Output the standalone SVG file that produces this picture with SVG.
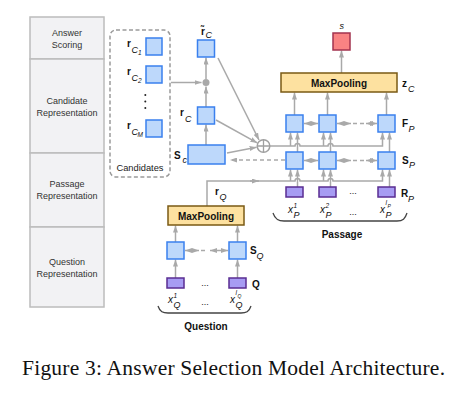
<svg xmlns="http://www.w3.org/2000/svg" width="459" height="402" viewBox="0 0 459 402">
<style>
.panel{fill:#f2f2f4;stroke:#bcbcbc;stroke-width:1.5}
.pt{font-family:"Liberation Sans",Arial,sans-serif;font-size:9px;fill:#333;text-anchor:middle}
.blue{fill:#bdd8fb;stroke:#3a80ee;stroke-width:1.5}
.purple{fill:#a79cf3;stroke:#5a2d92;stroke-width:1.5}
.pool{fill:#fde1a0;stroke:#7a5a14;stroke-width:1.5}
.red{fill:#f98383;stroke:#a3334f;stroke-width:1.5}
.ln{stroke:#a9a9a9;stroke-width:1.5;fill:none}
.dash{stroke-dasharray:4 3}
.a{marker-end:url(#ah)}
.aa{marker-end:url(#ah);marker-start:url(#ah)}
.b{font-family:"Liberation Sans",Arial,sans-serif;font-weight:bold;font-size:10px;fill:#111}
.i9{font-family:"Liberation Sans",Arial,sans-serif;font-style:italic;font-size:9px;fill:#111}
.i7{font-family:"Liberation Sans",Arial,sans-serif;font-style:italic;font-size:6.5px;fill:#111}
.x{font-family:"Liberation Sans",Arial,sans-serif;font-style:italic;font-size:10px;fill:#111}
.mp{font-family:"Liberation Sans",Arial,sans-serif;font-weight:bold;font-size:10px;fill:#111;text-anchor:middle}
.dots{font-family:"Liberation Sans",Arial,sans-serif;font-size:9px;fill:#111;text-anchor:middle}
.brace{stroke:#444;stroke-width:1.3;fill:none}
.cap{font-family:"Liberation Sans",Arial,sans-serif;font-weight:bold;font-size:10px;fill:#111;text-anchor:middle}
</style>
<defs>
<marker id="ah" viewBox="0 0 7 5" refX="7" refY="2.5" markerWidth="7" markerHeight="5" markerUnits="userSpaceOnUse" orient="auto-start-reverse"><path d="M0,0 L7,2.5 L0,5 z" fill="#a9a9a9"/></marker>
</defs>

<g id="layer-panel">
<rect class="panel" x="30" y="17" width="74" height="42"/>
<rect class="panel" x="30" y="59" width="74" height="94"/>
<rect class="panel" x="30" y="153" width="74" height="74"/>
<rect class="panel" x="30" y="227" width="74" height="80"/>
<text class="pt" x="67" y="36">Answer</text>
<text class="pt" x="67" y="48">Scoring</text>
<text class="pt" x="67" y="104">Candidate</text>
<text class="pt" x="67" y="116">Representation</text>
<text class="pt" x="67" y="187">Passage</text>
<text class="pt" x="67" y="199">Representation</text>
<text class="pt" x="67" y="265">Question</text>
<text class="pt" x="67" y="277">Representation</text>
</g>

<g id="connectors">
<path class="ln a" d="M171,82.5 H201.5"/>
<path class="ln a" d="M206,145 V124.5"/>
<path class="ln a" d="M206,107 V86.5"/>
<path class="ln a" d="M206,79 V57.5"/>
<path class="ln a" d="M218,58 L259,140"/>
<path class="ln a" d="M216,120 L257.3,142.9"/>
<path class="ln a" d="M227,153 L256.6,147.2"/>
<path class="ln dash a" d="M285,160 H230"/>
<path class="ln a" d="M270,146 H295 A2.5,2.5 0 0 1 300,146 H328 A2.5,2.5 0 0 1 333,146 H382.5 V132.5"/>
<path class="ln a" d="M290.5,146 V132.5"/>
<path class="ln a" d="M323.5,146 V132.5"/>
<path class="ln a" d="M207,206 V181 H295 A2.5,2.5 0 0 1 300,181 H328 A2.5,2.5 0 0 1 333,181 H382.5 V169.5"/>
<path class="ln a" d="M250,181 H259"/>
<path class="ln a" d="M290.5,181 V169.5"/>
<path class="ln a" d="M323.5,181 V169.5"/>
<path class="ln a" d="M297.5,152 V132.5"/>
<path class="ln a" d="M330.5,152 V132.5"/>
<path class="ln a" d="M389.5,152 V132.5"/>
<path class="ln a" d="M297.5,187 V169.5"/>
<path class="ln a" d="M330.5,187 V169.5"/>
<path class="ln a" d="M389.5,187 V169.5"/>
<path class="ln a" d="M294.5,115 V92.5"/>
<path class="ln a" d="M327.5,115 V92.5"/>
<path class="ln a" d="M386.5,115 V92.5"/>
<path class="ln a" d="M341.5,73 V50.5"/>
<path class="ln aa" d="M304,123.5 H318"/>
<path class="ln aa" d="M337,123.5 H351"/>
<path class="ln dash" d="M353,123.5 H364"/>
<path class="ln aa" d="M366,123.5 H377"/>
<path class="ln aa" d="M304,160.5 H318"/>
<path class="ln aa" d="M337,160.5 H351"/>
<path class="ln dash" d="M353,160.5 H364"/>
<path class="ln aa" d="M366,160.5 H377"/>
<path class="ln aa" d="M185,250.5 H199"/>
<path class="ln dash" d="M201,250.5 H208"/>
<path class="ln aa" d="M210,250.5 H228"/>
<path class="ln a" d="M175.5,278 V259.5"/>
<path class="ln a" d="M237.5,278 V259.5"/>
<path class="ln a" d="M175.5,242 V225.5"/>
<path class="ln a" d="M237.5,242 V225.5"/>
</g>

<g id="candidates">
<rect x="110" y="30" width="60" height="147" rx="6" fill="none" stroke="#9a9a9a" stroke-width="1.5" stroke-dasharray="4 2.5"/>
<rect class="blue" x="146" y="38" width="16" height="17"/>
<rect class="blue" x="146" y="66" width="16" height="17"/>
<rect class="blue" x="146" y="120" width="16" height="17"/>
<circle cx="145.3" cy="95" r="1" fill="#222"/>
<circle cx="145.3" cy="101.5" r="1" fill="#222"/>
<circle cx="145.3" cy="108" r="1" fill="#222"/>
<text class="b" x="127" y="47">r</text><text class="i9" x="131.5" y="52.5">C</text><text class="i7" x="138" y="55">1</text>
<text class="b" x="127" y="75">r</text><text class="i9" x="131.5" y="80.5">C</text><text class="i7" x="138" y="83">2</text>
<text class="b" x="127" y="129">r</text><text class="i9" x="131.5" y="134.5">C</text><text class="i7" x="137.5" y="137">M</text>
<text x="140" y="171" font-family="Liberation Sans, Arial, sans-serif" font-size="9.3" fill="#222" text-anchor="middle">Candidates</text>
</g>

<g id="node-rtilde">
<rect class="blue" x="197.5" y="40" width="17" height="17"/>
<text x="201" y="35" font-family="Liberation Sans, DejaVu Sans, sans-serif" font-weight="bold" font-size="10" fill="#111">r&#771;</text><text class="i9" x="205.5" y="38">C</text>
</g>
<g id="node-dot"><circle cx="206" cy="82.5" r="3.5" fill="#a9a9a9"/></g>
<g id="node-rc">
<rect class="blue" x="197.5" y="107" width="17" height="17"/>
<text class="b" x="180" y="116">r</text><text class="i9" x="185" y="122">C</text>
</g>
<g id="node-sc">
<rect class="blue" x="188" y="145" width="37" height="19"/>
<text class="b" x="174" y="159" font-size="11">S</text><text class="i9" x="182.5" y="163">c</text>
</g>
<g id="node-oplus">
<circle cx="263.5" cy="146" r="6.3" fill="#fff" stroke="#a0a0a0" stroke-width="1.5"/>
<path d="M257.2,146 H269.8 M263.5,139.7 V152.3" stroke="#a0a0a0" stroke-width="1.3"/>
</g>

<g id="node-s">
<rect class="red" x="333" y="33" width="17" height="17"/>
<text class="i9" x="339.5" y="29">s</text>
</g>
<g id="node-maxpool-p">
<rect class="pool" x="281" y="73" width="116" height="19"/>
<text class="mp" x="339" y="86.5">MaxPooling</text>
<text class="b" x="402" y="87">z</text><text class="i9" x="408" y="91.5">C</text>
</g>
<g id="node-fp">
<rect class="blue" x="286" y="115" width="17" height="17"/>
<rect class="blue" x="319" y="115" width="17" height="17"/>
<rect class="blue" x="378" y="115" width="17" height="17"/>
<text class="b" x="402" y="127">F</text><text class="i9" x="408.5" y="131.5">P</text>
</g>
<g id="node-sp">
<rect class="blue" x="286" y="152" width="17" height="17"/>
<rect class="blue" x="319" y="152" width="17" height="17"/>
<rect class="blue" x="378" y="152" width="17" height="17"/>
<text class="b" x="402" y="164">S</text><text class="i9" x="409" y="168">P</text>
</g>
<g id="node-rp">
<rect class="purple" x="286" y="187" width="17" height="10"/>
<rect class="purple" x="319" y="187" width="17" height="10"/>
<rect class="purple" x="378" y="187" width="17" height="10"/>
<text class="dots" x="353" y="194">...</text>
<text class="b" x="401" y="197">R</text><text class="i9" x="408" y="202">P</text>
</g>
<g id="passage-labels">
<text class="x" x="288" y="213">x</text><text class="i7" x="293.5" y="208">1</text><text class="i9" x="293.5" y="217.5">P</text>
<text class="x" x="320" y="213">x</text><text class="i7" x="325.5" y="208">2</text><text class="i9" x="325.5" y="217.5">P</text>
<text class="dots" x="353" y="215">...</text>
<text class="x" x="380" y="213">x</text><text class="i7" x="385.5" y="205">l</text><text x="387.5" y="207.5" font-family="Liberation Sans, Arial, sans-serif" font-style="italic" font-size="5" fill="#111">P</text><text class="i9" x="385.5" y="217.5">P</text>
<path class="brace" d="M273,213 C275,219 278,221 284,221 L397,221 C403,221 405,219 407,213"/>
<text class="cap" x="342" y="238">Passage</text>
</g>

<g id="node-maxpool-q">
<rect class="pool" x="168" y="206" width="76" height="19"/>
<text class="mp" x="206" y="219.5">MaxPooling</text>
<text class="b" x="215" y="195">r</text><text class="i9" x="219.5" y="199.5">Q</text>
</g>
<g id="node-sq">
<rect class="blue" x="167" y="242" width="17" height="17"/>
<rect class="blue" x="229" y="242" width="17" height="17"/>
<text class="b" x="250" y="254">S</text><text class="i9" x="256.5" y="258.5">Q</text>
</g>
<g id="node-q">
<rect class="purple" x="167" y="278" width="17" height="10"/>
<rect class="purple" x="229" y="278" width="17" height="10"/>
<text class="dots" x="205" y="286">...</text>
<text class="b" x="252" y="287.5" font-size="10.5">Q</text>
</g>
<g id="question-labels">
<text class="x" x="168" y="303">x</text><text class="i7" x="173.5" y="297.5">1</text><text class="i9" x="173.5" y="307.5">Q</text>
<text class="dots" x="205" y="305">...</text>
<text class="x" x="230" y="303">x</text><text class="i7" x="235.5" y="295">l</text><text x="237.5" y="297.5" font-family="Liberation Sans, Arial, sans-serif" font-style="italic" font-size="5" fill="#111">Q</text><text class="i9" x="235.5" y="307.5">Q</text>
<path class="brace" d="M158,306 C160,312 163,313 168,313 L241,313 C246,313 249,312 251,306"/>
<text class="cap" x="206" y="330">Question</text>
</g>

<text x="233.5" y="375" font-family="Liberation Serif, Times New Roman, serif" font-size="21.5" fill="#111" text-anchor="middle" textLength="423" lengthAdjust="spacing">Figure 3: Answer Selection Model Architecture.</text>
</svg>
